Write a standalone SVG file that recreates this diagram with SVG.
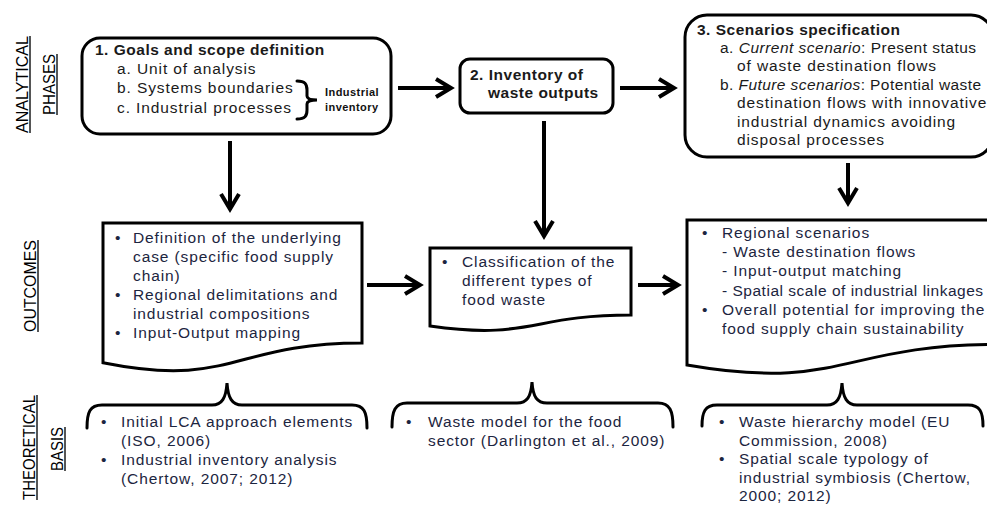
<svg xmlns="http://www.w3.org/2000/svg" width="987" height="505" viewBox="0 0 987 505">
<style>
.box{fill:#fff;stroke:#000;stroke-width:3}
.doc{fill:#fff;stroke:#000;stroke-width:3;stroke-linejoin:miter}
.brace{fill:none;stroke:#000;stroke-width:3;stroke-linecap:round}
.conn line{stroke:#000;stroke-width:4}
.t{font-family:"Liberation Sans",Arial,sans-serif;font-size:15.5px;letter-spacing:0.9px;fill:#1a1a1a}
.b{font-weight:bold;letter-spacing:0.5px}
.o{fill:#1c2540}
.side{font-family:"Liberation Sans",Arial,sans-serif;font-size:17px;fill:#000;text-anchor:middle}
.ul{stroke:#555;stroke-width:2}
.small{font-family:"Liberation Sans",Arial,sans-serif;font-size:11px;font-weight:bold;letter-spacing:0.45px;fill:#111}
</style>
<defs>
<marker id="arr" viewBox="0 0 22 22" refX="18" refY="11" markerWidth="22" markerHeight="22" markerUnits="userSpaceOnUse" orient="auto">
<path d="M3,2 L18,11 L3,20" fill="none" stroke="#000" stroke-width="4"/>
</marker>
</defs>
<rect width="987" height="505" fill="#fff"/>

<g id="side-labels">
<text class="side" transform="translate(28,84.5) rotate(-90)" textLength="97" lengthAdjust="spacingAndGlyphs">ANALYTICAL</text>
<line class="ul" x1="30" y1="36" x2="30" y2="133"/>
<text class="side" transform="translate(55,84.5) rotate(-90)" textLength="61" lengthAdjust="spacingAndGlyphs">PHASES</text>
<line class="ul" x1="57" y1="54" x2="57" y2="115"/>
<text class="side" transform="translate(36,286) rotate(-90)" textLength="92" lengthAdjust="spacingAndGlyphs">OUTCOMES</text>
<line class="ul" x1="38" y1="240" x2="38" y2="332"/>
<text class="side" transform="translate(35,447.5) rotate(-90)" textLength="105" lengthAdjust="spacingAndGlyphs">THEORETICAL</text>
<line class="ul" x1="37" y1="395" x2="37" y2="500"/>
<text class="side" transform="translate(63,449) rotate(-90)" textLength="44" lengthAdjust="spacingAndGlyphs">BASIS</text>
<line class="ul" x1="65" y1="427" x2="65" y2="471"/>
</g>

<g id="phase1">
<rect class="box" x="82" y="38" width="309" height="96" rx="18"/>
<text class="t b" x="95" y="55">1. Goals and scope definition</text>
<text class="t" x="117" y="74">a. Unit of analysis</text>
<text class="t" x="117" y="93">b. Systems boundaries</text>
<text class="t" x="117" y="113">c. Industrial processes</text>
<path class="brace" d="M297,81 C305,81 307,84 307,90 L307,96 C307,99 310,100 317,100 C310,100 307,101 307,104 L307,110 C307,116 305,119 297,119" stroke-width="2"/>
<text class="small" x="325" y="96">Industrial</text>
<text class="small" x="325" y="111">inventory</text>
</g>

<g id="phase2">
<rect class="box" x="460" y="59" width="153" height="54" rx="10"/>
<text class="t b" x="470" y="80">2. Inventory of</text>
<text class="t b" x="488" y="98">waste outputs</text>
</g>

<g id="phase3">
<rect class="box" x="685" y="15" width="308" height="142" rx="22"/>
<text class="t b" x="697" y="35">3. Scenarios specification</text>
<text class="t" x="720" y="53" textLength="257" lengthAdjust="spacing">a. <tspan font-style="italic">Current scenario</tspan>: Present status</text>
<text class="t" x="737" y="71">of waste destination flows</text>
<text class="t" x="720" y="90" textLength="262" lengthAdjust="spacing">b. <tspan font-style="italic">Future scenarios</tspan>: Potential waste</text>
<text class="t" x="737" y="108">destination flows with innovative</text>
<text class="t" x="737" y="127">industrial dynamics avoiding</text>
<text class="t" x="737" y="145">disposal processes</text>
</g>

<g id="outcome1">
<path class="doc" d="M103,223 H362 V343 C232.5,343 232.5,388.6 103,362.7 Z"/>
<text class="t o" x="115" y="243">•</text>
<text class="t o" x="133" y="243">Definition of the underlying</text>
<text class="t o" x="133" y="262">case (specific food supply</text>
<text class="t o" x="133" y="281">chain)</text>
<text class="t o" x="115" y="300">•</text>
<text class="t o" x="133" y="300">Regional delimitations and</text>
<text class="t o" x="133" y="319">industrial compositions</text>
<text class="t o" x="115" y="338">•</text>
<text class="t o" x="133" y="338">Input-Output  mapping</text>
</g>

<g id="outcome2">
<path class="doc" d="M430,248 H631 V315 C530.5,315 530.5,340.4 430,326 Z"/>
<text class="t o" x="442" y="267">•</text>
<text class="t o" x="462" y="267">Classification of the</text>
<text class="t o" x="462" y="286">different types of</text>
<text class="t o" x="462" y="305">food waste</text>
</g>

<g id="outcome3">
<path class="doc" d="M687,220 H997 V344.5 C842,344.5 842,391.8 687,365 Z"/>
<text class="t o" x="702" y="238">•</text>
<text class="t o" x="722" y="238">Regional scenarios</text>
<text class="t o" x="722" y="257">- Waste destination flows</text>
<text class="t o" x="722" y="276">- Input-output  matching</text>
<text class="t o" x="722" y="296" textLength="262" lengthAdjust="spacing">- Spatial scale of industrial linkages</text>
<text class="t o" x="702" y="315">•</text>
<text class="t o" x="722" y="315">Overall potential for improving the</text>
<text class="t o" x="722" y="334">food supply chain sustainability</text>
</g>

<g id="basis1">
<path class="brace" d="M87,428 C87,412 90,405 102,405 L212,405 C222,405 226,398 227,383 C228,398 232,405 242,405 L352,405 C364,405 367,412 367,428"/>
<text class="t o" x="101" y="427">•</text>
<text class="t o" x="121" y="427">Initial LCA approach elements</text>
<text class="t o" x="121" y="446">(ISO, 2006)</text>
<text class="t o" x="101" y="465">•</text>
<text class="t o" x="121" y="465">Industrial inventory analysis</text>
<text class="t o" x="121" y="484">(Chertow, 2007; 2012)</text>
</g>

<g id="basis2">
<path class="brace" d="M392,427 C392,411 395,403 407,403 L517,403 C527,403 531,397 532,382 C533,397 537,403 547,403 L658,403 C670,403 673,411 673,427"/>
<text class="t o" x="406" y="427">•</text>
<text class="t o" x="428" y="427">Waste model for the food</text>
<text class="t o" x="428" y="446">sector (Darlington et al., 2009)</text>
</g>

<g id="basis3">
<path class="brace" d="M702,426 C702,412 705,405 717,405 L827,405 C837,405 841,398 842,383 C843,398 847,405 857,405 L968,405 C980,405 983,412 983,426"/>
<text class="t o" x="719" y="427">•</text>
<text class="t o" x="739" y="427">Waste hierarchy model (EU</text>
<text class="t o" x="739" y="445.5">Commission, 2008)</text>
<text class="t o" x="719" y="464">•</text>
<text class="t o" x="739" y="464">Spatial scale typology of</text>
<text class="t o" x="739" y="482.5">industrial symbiosis (Chertow,</text>
<text class="t o" x="739" y="501">2000; 2012)</text>
</g>

<g id="connectors" class="conn">
<line x1="398" y1="88" x2="451" y2="88" marker-end="url(#arr)"/>
<line x1="620" y1="88" x2="674" y2="88" marker-end="url(#arr)"/>
<line x1="230" y1="141" x2="230" y2="209" marker-end="url(#arr)"/>
<line x1="544" y1="121" x2="544" y2="236" marker-end="url(#arr)"/>
<line x1="848" y1="163" x2="848" y2="203" marker-end="url(#arr)"/>
<line x1="367" y1="285" x2="420" y2="285" marker-end="url(#arr)"/>
<line x1="638" y1="285" x2="678" y2="285" marker-end="url(#arr)"/>
</g>
</svg>
